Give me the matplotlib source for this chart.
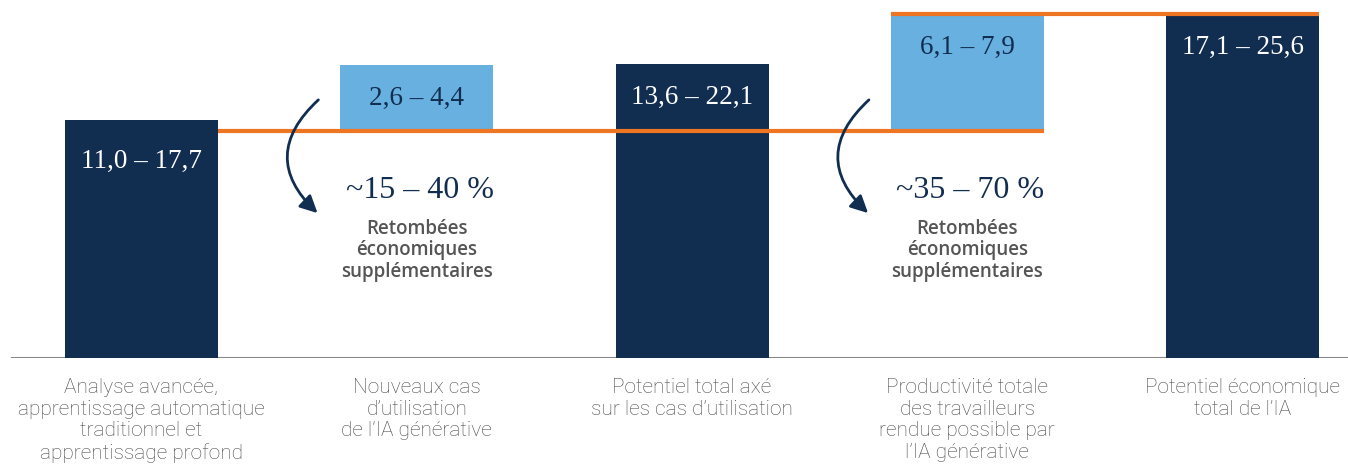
import matplotlib
matplotlib.use("Agg")
import matplotlib.pyplot as plt
from matplotlib.patches import FancyArrowPatch
import numpy as np

# bar extents in picture units (baseline = 0)
categories = ["Analyse avancée,\napprentissage automatique\ntraditionnel et\napprentissage profond",
              "Nouveaux cas\nd’utilisation\nde l’IA générative",
              "Potentiel total axé\nsur les cas d’utilisation",
              "Productivité totale\ndes travailleurs\nrendue possible par\nl’IA générative",
              "Potentiel économique\ntotal de l’IA"]
bar_bottoms = [0, 227, 0, 227, 0]
bar_tops = [238, 293, 294, 344, 344]
bar_labels = ["11,0 – 17,7", "2,6 – 4,4", "13,6 – 22,1", "6,1 – 7,9", "17,1 – 25,6"]
bar_kind = ["total", "delta", "total", "delta", "total"]
pct_labels = ["~15 – 40 %", "~35 – 70 %"]
pct_note = "Retombées\néconomiques\nsupplémentaires"

navy = "#112D50"
light = "#68B0E0"
orange = "#EE7623"
gray = "#555555"

fig = plt.figure(figsize=(13.48, 4.68), dpi=100)
ax = fig.add_axes([0, 110/468, 1, 358/468])
ax.set_xlim(-0.514, 4.383)
ax.set_ylim(0, 358)
ax.axis("off")

x = np.arange(len(categories))
w = 0.556
for i in range(len(x)):
    col = navy if bar_kind[i] == "total" else light
    ax.bar(x[i], bar_tops[i] - bar_bottoms[i], bottom=bar_bottoms[i], width=w,
           color=col, zorder=2)
    tcol = "white" if bar_kind[i] == "total" else navy
    off = -41 if i == 0 else -33
    ax.annotate(bar_labels[i], (x[i], bar_tops[i]), xytext=(0, off), textcoords="offset pixels",
                ha="center", va="center", fontsize=19.5, color=tcol,
                family="Liberation Serif", zorder=4)

# orange connector lines
ax.plot([x[0] + w/2, x[3] + w/2], [bar_bottoms[1], bar_bottoms[3]], color=orange, lw=3, zorder=3,
        solid_capstyle="butt")
ax.plot([x[3] - w/2, x[4] + w/2], [bar_tops[3], bar_tops[4]], color=orange, lw=3, zorder=3,
        solid_capstyle="butt")

# baseline
ax.axhline(0, xmin=12/1348, xmax=1, color="#888888", lw=1.5, zorder=1)

# curved arrows + percentages
for k, i in enumerate([1, 3]):
    xa = x[i] - 0.35
    arr = FancyArrowPatch((xa, 260), (xa - 0.003, 143), connectionstyle="arc3,rad=0.55",
                          arrowstyle="-|>", mutation_scale=26, lw=2, color=navy, zorder=5)
    ax.add_patch(arr)
    ax.text(x[i] + 0.01, 168, pct_labels[k], ha="center", va="center", fontsize=23,
            color=navy, family="Liberation Serif")
    ax.text(x[i], 108, pct_note, ha="center", va="center", fontsize=13.5,
            color=gray, family="Open Sans", fontweight="semibold", linespacing=1.1)

for i in range(len(x)):
    ax.text(x[i], -20, categories[i], ha="center", va="top", fontsize=15,
            color="#4a4a4a", family="Roboto", fontweight="light", linespacing=1.18,
            clip_on=False)

fig.savefig("out.png", dpi=100)
